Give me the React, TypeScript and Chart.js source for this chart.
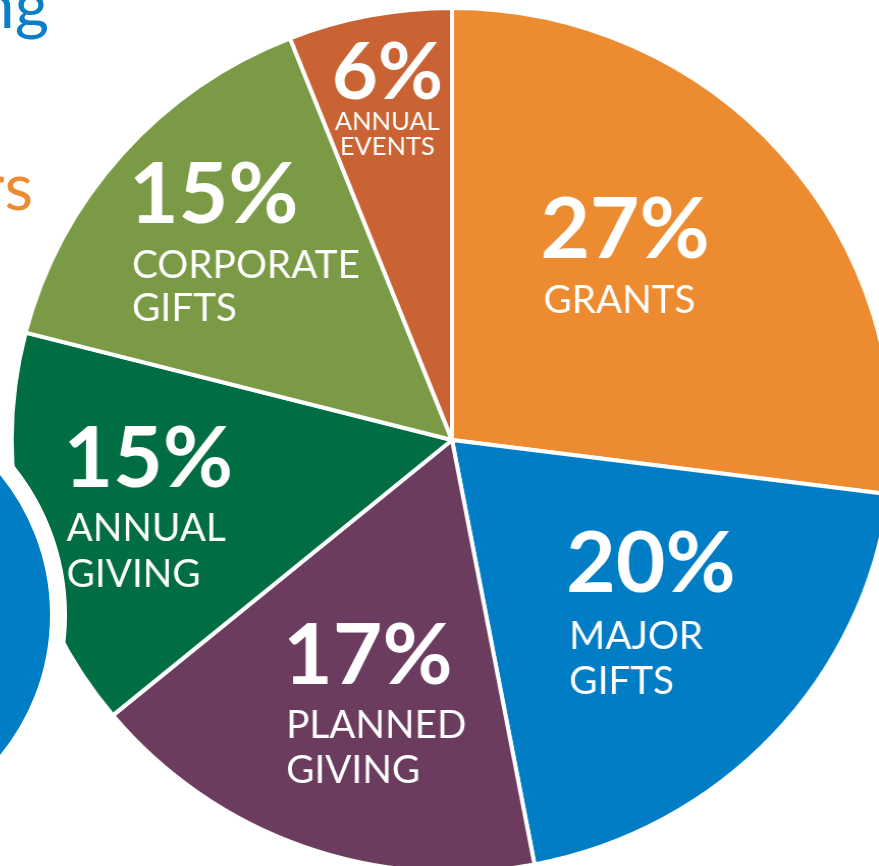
import React, { useEffect, useRef } from "react";
import { Chart, registerables } from "chart.js";

Chart.register(...registerables);

const categories = ["GRANTS", "MAJOR GIFTS", "PLANNED GIVING", "ANNUAL GIVING", "CORPORATE GIFTS", "ANNUAL EVENTS"];
const values = [27, 20, 17, 15, 15, 6];
const labelLines = [["GRANTS"], ["MAJOR", "GIFTS"], ["PLANNED", "GIVING"], ["ANNUAL", "GIVING"], ["CORPORATE", "GIFTS"], ["ANNUAL", "EVENTS"]];
const colors = ["#ED8B30", "#007DC5", "#6B3C5E", "#006E42", "#7B9A45", "#C96333"];

// label anchor as fraction of outer radius (x, y) relative to pie centre
const labelAnchors = [
  [0.393, -0.426],
  [0.452, 0.401],
  [-0.179, 0.611],
  [-0.69, 0.154],
  [-0.475, -0.459],
  [-0.147, -0.79],
];
const labelStyles = [
  { big: 84, sub: 38, cap: 60, gap: 55, line: 45, align: "left" },
  { big: 84, sub: 38, cap: 60, gap: 57, line: 45, align: "left" },
  { big: 84, sub: 38, cap: 60, gap: 54, line: 45, align: "left" },
  { big: 84, sub: 38, cap: 60, gap: 54, line: 46, align: "left" },
  { big: 84, sub: 38, cap: 60, gap: 55, line: 43, align: "left" },
  { big: 78, sub: 25, cap: 56, gap: 31, line: 25, align: "center" },
];

const labelPlugin = {
  id: "sliceLabels",
  afterDatasetsDraw(chart: any) {
    const meta = chart.getDatasetMeta(0);
    const ctx = chart.ctx as CanvasRenderingContext2D;
    ctx.save();
    ctx.fillStyle = "#ffffff";
    ctx.textBaseline = "alphabetic";
    meta.data.forEach((arc: any, i: number) => {
      const { x, y, outerRadius } = arc.getProps(["x", "y", "outerRadius"], true);
      const ax = x + labelAnchors[i][0] * outerRadius;
      const ay = y + labelAnchors[i][1] * outerRadius;
      const st = labelStyles[i];
      const lines = labelLines[i];
      const bigText = values[i] + "%";
      const h = st.cap + st.gap + (lines.length - 1) * st.line;
      const top = ay - h / 2;
      ctx.font = `700 ${st.big}px Lato, "Open Sans", sans-serif`;
      const bw = ctx.measureText(bigText).width;
      ctx.font = `400 ${st.sub}px Lato, "Open Sans", sans-serif`;
      let sw = 0;
      lines.forEach((l) => (sw = Math.max(sw, ctx.measureText(l).width)));
      const blockW = Math.max(bw, sw);
      if (st.align === "center") {
        ctx.textAlign = "center";
        ctx.font = `700 ${st.big}px Lato, "Open Sans", sans-serif`;
        ctx.fillText(bigText, ax, top + st.cap);
        ctx.font = `400 ${st.sub}px Lato, "Open Sans", sans-serif`;
        lines.forEach((l, k) => ctx.fillText(l, ax, top + st.cap + st.gap + k * st.line));
      } else {
        ctx.textAlign = "left";
        const x0 = ax - blockW / 2;
        ctx.font = `700 ${st.big}px Lato, "Open Sans", sans-serif`;
        ctx.fillText(bigText, x0, top + st.cap);
        ctx.font = `400 ${st.sub}px Lato, "Open Sans", sans-serif`;
        lines.forEach((l, k) => ctx.fillText(l, x0 + 3, top + st.cap + st.gap + k * st.line));
      }
    });
    ctx.restore();
  },
};

export default function App() {
  const ref = useRef<HTMLCanvasElement>(null);
  useEffect(() => {
    const chart = new Chart(ref.current!, {
      type: "pie",
      data: {
        labels: categories,
        datasets: [
          {
            data: values,
            backgroundColor: colors,
            borderColor: "#ffffff",
            borderWidth: 4,
          },
        ],
      },
      options: {
        responsive: false,
        animation: false,
        layout: { padding: 0 },
        plugins: { legend: { display: false }, tooltip: { enabled: false } },
      },
      plugins: [labelPlugin],
    });
    return () => chart.destroy();
  }, []);

  return (
    <div style={{ position: "fixed", left: 0, top: 0, width: 879, height: 866, overflow: "hidden", background: "#fff" }}>
      <div
        style={{
          position: "absolute",
          left: 18,
          top: 6,
          width: 868,
          height: 868,
          transform: "scaleX(1.019)",
          transformOrigin: "434px 434px",
        }}
      >
        <canvas ref={ref} width={868} height={868} />
      </div>
      <div
        style={{
          position: "absolute",
          left: -409,
          top: 377,
          width: 476,
          height: 476,
          boxSizing: "border-box",
          borderRadius: "50%",
          background: "#007DC5",
          border: "17px solid #ffffff",
        }}
      />
      <div
        style={{
          position: "absolute",
          right: 879 - 49,
          top: 33 - 60,
          fontFamily: "Lato, sans-serif",
          fontSize: 66,
          lineHeight: "60px",
          color: "#0A7EC6",
          whiteSpace: "nowrap",
        }}
      >
        ng
      </div>
      <div
        style={{
          position: "absolute",
          right: 879 - 33,
          top: 215 - 60,
          fontFamily: "Lato, sans-serif",
          fontSize: 66,
          lineHeight: "60px",
          color: "#ED8B30",
          whiteSpace: "nowrap",
        }}
      >
        rs
      </div>
    </div>
  );
}
